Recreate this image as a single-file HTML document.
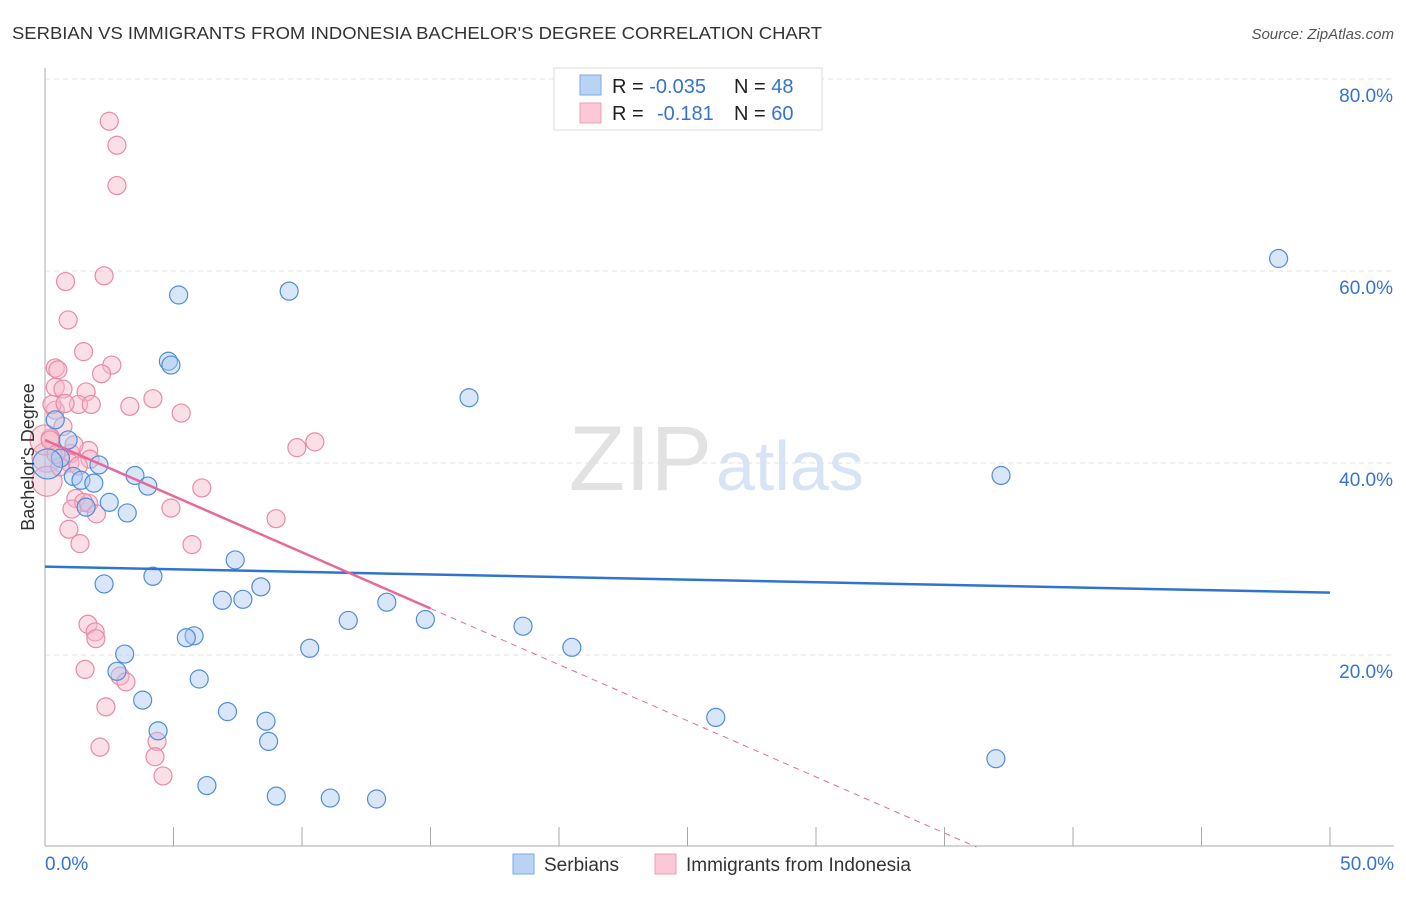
<!DOCTYPE html>
<html><head><meta charset="utf-8"><style>
body{margin:0;background:#fff;font-family:"Liberation Sans",sans-serif}
svg text{font-family:"Liberation Sans",sans-serif}
</style></head><body>
<svg id="chart" width="1406" height="892" xmlns="http://www.w3.org/2000/svg">
<text x="12" y="39" font-size="17.5" fill="#333" textLength="810" lengthAdjust="spacingAndGlyphs">SERBIAN VS IMMIGRANTS FROM INDONESIA BACHELOR'S DEGREE CORRELATION CHART</text>
<text x="1394" y="39" font-size="15" fill="#555" text-anchor="end" font-style="italic">Source: ZipAtlas.com</text>
<text x="712" y="490" font-size="92" fill="#e2e2e2" text-anchor="end" font-family="Liberation Serif">ZIP</text>
<text x="716" y="490" font-size="70" fill="#d6e4f5">atlas</text>
<g id="grid"></g>
<g id="axes"></g>
<g id="pts"></g>
<g id="lines"></g>
<text transform="translate(34,457) rotate(-90)" font-size="18" fill="#333" text-anchor="middle">Bachelor's Degree</text>
<g>
<rect x="554" y="68" width="268" height="62" fill="#fff" stroke="#ddd"/>
<rect x="580" y="75" width="21" height="20" fill="#b9d3f5" stroke="#7aaae6"/>
<rect x="580" y="103" width="21" height="20" fill="#fac8d6" stroke="#ee9fb7"/>
<text x="612" y="93" font-size="20" fill="#222">R = <tspan fill="#3573d0">-0.035</tspan></text>
<text x="734" y="93" font-size="20" fill="#222">N = <tspan fill="#3573d0">48</tspan></text>
<text x="612" y="120" font-size="20" fill="#222">R = </text>
<text x="657" y="120" font-size="20" fill="#3573d0">-0.181</text>
<text x="734" y="120" font-size="20" fill="#222">N = <tspan fill="#3573d0">60</tspan></text>
</g>
<g>
<rect x="513" y="854" width="21" height="20" fill="#b9d3f5" stroke="#7aaae6"/>
<text x="544" y="871" font-size="19" fill="#333">Serbians</text>
<rect x="655" y="854" width="21" height="20" fill="#fac8d6" stroke="#ee9fb7"/>
<text x="686" y="871" font-size="19" fill="#333">Immigrants from Indonesia</text>
</g>
</svg>
<script>
const xTicks=[0,5,10,15,20,25,30,35,40,45,50];
const yTicks=[20,40,60,80];
const yTickLabels=["20.0%","40.0%","60.0%","80.0%"];
const serbX=[48.0,9.5,5.2,4.8,4.9,16.5,37.2,0.9,0.4,0.6,2.1,1.1,1.4,1.9,3.5,4.0,2.5,1.6,3.2,7.4,4.2,2.3,8.4,6.9,7.7,13.3,11.8,14.8,18.6,5.8,5.5,10.3,20.5,3.1,2.8,6.0,3.8,26.1,7.1,8.6,4.4,8.7,37.0,6.3,9.0,11.1,12.9,0.1];
const serbY=[61.3,57.9,57.5,50.6,50.2,46.8,38.7,42.4,44.5,40.5,39.8,38.6,38.2,37.9,38.7,37.6,35.9,35.4,34.8,29.9,28.2,27.4,27.1,25.7,25.8,25.5,23.6,23.7,23.0,22.0,21.8,20.7,20.8,20.1,18.3,17.5,15.3,13.5,14.1,13.1,12.1,11.0,9.2,6.4,5.3,5.1,5.0,39.9];
const indoX=[2.5,2.8,2.8,2.3,0.8,0.9,1.5,2.6,0.4,0.5,2.2,0.4,0.7,1.6,4.2,3.3,1.3,1.8,5.3,0.4,0.7,10.5,9.8,1.7,1.0,0.2,0.97,1.75,1.3,6.1,1.2,1.7,1.5,4.9,1.05,2.0,8.99,0.93,1.36,5.72,1.67,1.95,1.98,1.56,2.92,3.15,2.37,4.36,2.14,4.28,4.59,0.08,0.08,0.0,0.2,0.58,0.27,1.13,0.78,0.43];
const indoY=[75.6,73.1,68.9,59.5,58.9,54.9,51.6,50.2,49.9,49.7,49.3,47.9,47.7,47.4,46.7,45.9,46.1,46.1,45.2,45.5,43.8,42.2,41.6,41.3,41.0,42.6,40.0,40.4,39.7,37.4,36.3,35.8,35.9,35.3,35.2,34.7,34.2,33.1,31.6,31.5,23.2,22.4,21.7,18.5,17.8,17.2,14.6,11.0,10.4,9.4,7.4,40.6,38.1,42.4,42.4,39.6,46.1,41.9,46.2,40.9];
const serbTrend=[29.2,-0.054];
const indoTrend=[42.4,-1.17];
const X0=45,X1=1330,Y0=847,PY=9.6;
function xs(v){return X0+(v/50)*(X1-X0);}
function ys(v){return Y0-v*PY;}
const NS="http://www.w3.org/2000/svg";
function mk(t,a,p){const e=document.createElementNS(NS,t);for(const k in a)e.setAttribute(k,a[k]);p.appendChild(e);return e;}
const grid=document.getElementById('grid'),axes=document.getElementById('axes'),pts=document.getElementById('pts'),lines=document.getElementById('lines');
yTicks.forEach((t,i)=>{
 const g=mk('line',{x1:45,x2:1394,y1:ys(t),y2:ys(t),stroke:'#e2e2e2','stroke-dasharray':'5,4'},grid);
 
 
 const l=mk('text',{x:1393,y:ys(t)+23,'font-size':19,fill:'#3573d0','text-anchor':'end'},axes);
 l.textContent=yTickLabels[i];
 
 
});
const ax=mk('line',{x1:45,x2:45,y1:68,y2:846,stroke:'#aaa'},axes);


const bx=mk('line',{x1:45,x2:1394,y1:846,y2:846,stroke:'#aaa'},axes);


xTicks.forEach(t=>{
 const tk=mk('line',{x1:xs(t),x2:xs(t),y1:827,y2:846,stroke:'#aaa'},axes);
 
 
});
[[0,'0.0%','start',45],[50,'50.0%','end',1394]].forEach(d=>{
 const l=mk('text',{x:d[3],y:870,'font-size':19,fill:'#3573d0','text-anchor':d[2]},axes);
 l.textContent=d[1];
 
 
});
function dots(X,Y,fill,stroke,name){
 X.forEach((x,i)=>{
  const r=(x<0.15)?15:9;
  const c=mk('circle',{cx:xs(x),cy:ys(Y[i]),r:r,fill:fill,'fill-opacity':0.45,stroke:stroke,'stroke-width':1.2},pts);
  
  
 });
}
dots(indoX,indoY,'#f7b7ca','#e98aa8','indonesia-point');
dots(serbX,serbY,'#a9c8f0','#4f8ddb','serbian-point');
const bl=mk('line',{x1:xs(0),y1:ys(serbTrend[0]),x2:xs(50),y2:ys(serbTrend[0]+serbTrend[1]*50),stroke:'#2f74d0','stroke-width':2.5},lines);


const pl=mk('line',{x1:xs(0),y1:ys(indoTrend[0]),x2:xs(15),y2:ys(indoTrend[0]+indoTrend[1]*15),stroke:'#e8689a','stroke-width':2.5},lines);


const xe=-indoTrend[0]/indoTrend[1];
const pd=mk('line',{x1:xs(15),y1:ys(indoTrend[0]+indoTrend[1]*15),x2:xs(xe),y2:ys(0),stroke:'#e8689a','stroke-width':1,'stroke-dasharray':'6,5'},lines);


</script>
</body></html>
